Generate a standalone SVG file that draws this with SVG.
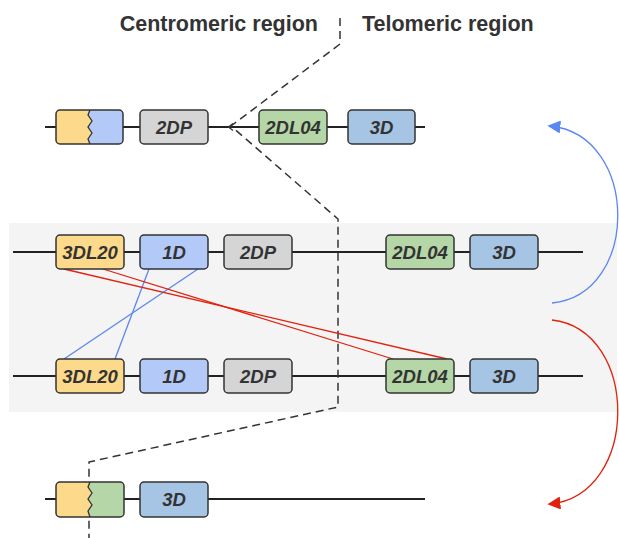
<svg xmlns="http://www.w3.org/2000/svg" width="619" height="538" viewBox="0 0 619 538">
<defs>
<style>
.hdr{font-family:"Liberation Sans",Arial,sans-serif;font-weight:bold;font-size:21.5px;fill:#333}
.lbl{font-family:"Liberation Sans",Arial,sans-serif;font-weight:bold;font-style:italic;font-size:18.5px;fill:#333;text-anchor:middle;dominant-baseline:central}
.box{stroke:#333;stroke-width:1.5}
.chr{stroke:#222;stroke-width:2;fill:none}
.yel{fill:#fdd98b}.lav{fill:#b3c9f7}.gry{fill:#d5d5d5}.grn{fill:#b5d6a7}.blu{fill:#a6c4e4}
.dash{fill:none;stroke:#333;stroke-width:1.5;stroke-dasharray:8 5}
.red{stroke:#e0220f;stroke-width:1.3;fill:none}
.bl{stroke:#5b87f0;stroke-width:1.3;fill:none}
</style>
<marker id="ab" viewBox="0 0 10 10" refX="8" refY="5" markerWidth="10" markerHeight="10" orient="auto"><path d="M0,0 L10,5 L0,10 z" fill="#5b87f0"/></marker>
<marker id="ar" viewBox="0 0 10 10" refX="8" refY="5" markerWidth="10" markerHeight="10" orient="auto"><path d="M0,0 L10,5 L0,10 z" fill="#e0220f"/></marker>
</defs>
<rect x="9" y="223" width="608" height="189" fill="#f4f4f4"/>
<text class="hdr" x="318" y="31" text-anchor="end">Centromeric region</text>
<text class="hdr" x="362" y="31">Telomeric region</text>
<g id="chromosomes">
<line class="chr" x1="45" y1="127" x2="425" y2="127"/>
<line class="chr" x1="13" y1="252" x2="583" y2="252"/>
<line class="chr" x1="13" y1="376" x2="583" y2="376"/>
<line class="chr" x1="45" y1="499" x2="425" y2="499"/>
</g>
<g id="connectors">
<path class="dash" d="M340,18 V44 L231,126 L338,219 V407 L89,462 V538" stroke-linejoin="round"/>
<path d="M233,123.5 L228.5,127 L233,130.5" fill="none" stroke="#333" stroke-width="1.3"/>
<line class="bl" x1="149" y1="269" x2="115" y2="359"/>
<line class="bl" x1="198" y1="269" x2="64" y2="359"/>
<line class="red" x1="64" y1="269" x2="447" y2="359"/>
<line class="red" x1="103" y1="269" x2="393" y2="359"/>
<path class="bl" d="M552,303 C640,295 640,135 550,126" marker-end="url(#ab)" stroke-width="1.5"/>
<path class="red" d="M552,320 C640,330 640,495 550,504" marker-end="url(#ar)" stroke-width="1.5"/>
</g>
<g id="fused-top">
<path class="yel" d="M60,110 H90 L88,115 L92,121 L88,127 L92,133 L88,139 L90,144 H60 a4,4 0 0 1 -4,-4 V114 a4,4 0 0 1 4,-4z"/>
<path class="lav" d="M90,110 H119 a4,4 0 0 1 4,4 V140 a4,4 0 0 1 -4,4 H90 L88,139 L92,133 L88,127 L92,121 L88,115 z"/>
<rect class="box" x="56" y="110" width="67" height="34" rx="4" fill="none"/>
<path d="M90,110 L88,115 L92,121 L88,127 L92,133 L88,139 L90,144" fill="none" stroke="#333" stroke-width="1.3"/>
</g>
<g id="top-2DP"><rect class="box gry" x="140" y="110" width="68" height="34" rx="4"/><text class="lbl" x="174" y="127">2DP</text></g>
<g id="top-2DL04"><rect class="box grn" x="259" y="110" width="68" height="34" rx="4"/><text class="lbl" x="293" y="127">2DL04</text></g>
<g id="top-3D"><rect class="box blu" x="348" y="110" width="67" height="34" rx="4"/><text class="lbl" x="381.5" y="127">3D</text></g>
<g id="r2-3DL20"><rect class="box yel" x="56" y="235" width="68" height="34" rx="4"/><text class="lbl" x="90" y="252">3DL20</text></g>
<g id="r2-1D"><rect class="box lav" x="140" y="235" width="68" height="34" rx="4"/><text class="lbl" x="174" y="252">1D</text></g>
<g id="r2-2DP"><rect class="box gry" x="224" y="235" width="68" height="34" rx="4"/><text class="lbl" x="258" y="252">2DP</text></g>
<g id="r2-2DL04"><rect class="box grn" x="386" y="235" width="68" height="34" rx="4"/><text class="lbl" x="420" y="252">2DL04</text></g>
<g id="r2-3D"><rect class="box blu" x="470" y="235" width="68" height="34" rx="4"/><text class="lbl" x="504" y="252">3D</text></g>
<g id="r3-3DL20"><rect class="box yel" x="56" y="359" width="68" height="34" rx="4"/><text class="lbl" x="90" y="376">3DL20</text></g>
<g id="r3-1D"><rect class="box lav" x="140" y="359" width="68" height="34" rx="4"/><text class="lbl" x="174" y="376">1D</text></g>
<g id="r3-2DP"><rect class="box gry" x="224" y="359" width="68" height="34" rx="4"/><text class="lbl" x="258" y="376">2DP</text></g>
<g id="r3-2DL04"><rect class="box grn" x="386" y="359" width="68" height="34" rx="4"/><text class="lbl" x="420" y="376">2DL04</text></g>
<g id="r3-3D"><rect class="box blu" x="470" y="359" width="68" height="34" rx="4"/><text class="lbl" x="504" y="376">3D</text></g>
<g id="fused-bottom">
<path class="yel" d="M60,482 H90 L88,487 L92,493 L88,499 L92,505 L88,511 L90,517 H60 a4,4 0 0 1 -4,-4 V486 a4,4 0 0 1 4,-4z"/>
<path class="grn" d="M90,482 H120 a4,4 0 0 1 4,4 V513 a4,4 0 0 1 -4,4 H90 L88,511 L92,505 L88,499 L92,493 L88,487 z"/>
<rect class="box" x="56" y="482" width="68" height="35" rx="4" fill="none"/>
<path d="M90,482 L88,487 L92,493 L88,499 L92,505 L88,511 L90,517" fill="none" stroke="#333" stroke-width="1.3"/>
</g>
<g id="bottom-3D"><rect class="box blu" x="140" y="482" width="68" height="35" rx="4"/><text class="lbl" x="174" y="499.5">3D</text></g>
</svg>
